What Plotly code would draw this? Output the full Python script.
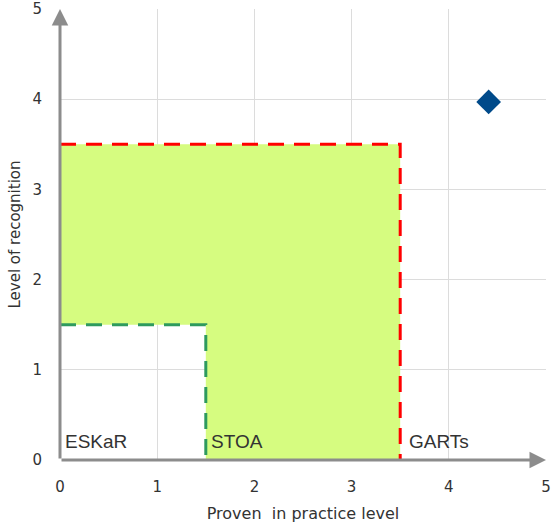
import plotly.graph_objects as go

# Data
region_names = ["ESKaR", "STOA", "GARTs"]
eskar_limit = 1.5
stoa_limit = 3.5
label_x = [0.03, 1.53, 3.57]
label_y = [0.2, 0.2, 0.2]
point_x = [4.41]
point_y = [3.97]
x_ticks = [0, 1, 2, 3, 4, 5]
y_ticks = [0, 1, 2, 3, 4, 5]

fig = go.Figure()

# green filled area (STOA region minus ESKaR square)
poly_x = [0, eskar_limit, eskar_limit, stoa_limit, stoa_limit, 0, 0]
poly_y = [eskar_limit, eskar_limit, 0, 0, stoa_limit, stoa_limit, eskar_limit]
fig.add_trace(go.Scatter(x=poly_x, y=poly_y, fill="toself", fillcolor="#d6fc80",
                         line=dict(width=0), mode="lines", hoverinfo="skip", showlegend=False))

# red dashed boundary
fig.add_trace(go.Scatter(x=[0, stoa_limit, stoa_limit], y=[stoa_limit, stoa_limit, 0],
                         mode="lines", line=dict(color="#ff0000", width=3, dash="16px,10px"),
                         showlegend=False))
# green dashed boundary
fig.add_trace(go.Scatter(x=[0, eskar_limit, eskar_limit], y=[eskar_limit, eskar_limit, 0],
                         mode="lines", line=dict(color="#2e9a5e", width=3, dash="16px,10px"),
                         showlegend=False))

# point
fig.add_trace(go.Scatter(x=point_x, y=point_y, mode="markers",
                         marker=dict(symbol="diamond", size=19, color="#004a8a"),
                         showlegend=False))

# region labels
for name, lx, ly in zip(region_names, label_x, label_y):
    fig.add_annotation(x=lx, y=ly, text=name, showarrow=False, xanchor="left", yanchor="middle",
                       font=dict(family="Liberation Sans", size=19, color="#333333"))

# axis arrows
fig.add_annotation(x=0, y=5.0, ax=0, ay=0, axref="x", ayref="y", xref="x", yref="y",
                   showarrow=True, arrowhead=2, arrowsize=1.1, arrowwidth=3, arrowcolor="#8c8c8c", text="")
fig.add_annotation(x=5.0, y=0, ax=0, ay=0, axref="x", ayref="y", xref="x", yref="y",
                   showarrow=True, arrowhead=2, arrowsize=1.1, arrowwidth=3, arrowcolor="#8c8c8c", text="")

tick_font = dict(family="DejaVu Sans", size=15, color="#333333")

fig.update_xaxes(range=[0, 5], tickvals=x_ticks, showgrid=True, gridcolor="#dcdcdc", gridwidth=1,
                 zeroline=False, showline=False, ticks="", ticklen=0, automargin=False,
                 ticklabelstandoff=16, tickfont=tick_font,
                 title=dict(text="Proven  in practice level",
                            font=dict(family="DejaVu Sans", size=16, color="#333333"), standoff=12))
fig.update_yaxes(range=[0, 5], tickvals=y_ticks, showgrid=True, gridcolor="#dcdcdc", gridwidth=1,
                 zeroline=False, showline=False, ticks="", ticklen=0, automargin=False,
                 ticklabelstandoff=17, tickfont=tick_font,
                 title=dict(text="Level of recognition",
                            font=dict(family="DejaVu Sans", size=15, color="#333333"), standoff=8))

fig.update_layout(width=551, height=526, margin=dict(l=60, r=5, t=9, b=66),
                  plot_bgcolor="white", paper_bgcolor="white")

fig.write_html("out.html", config={"displayModeBar": False},
               post_script="document.body.style.margin='0';")
